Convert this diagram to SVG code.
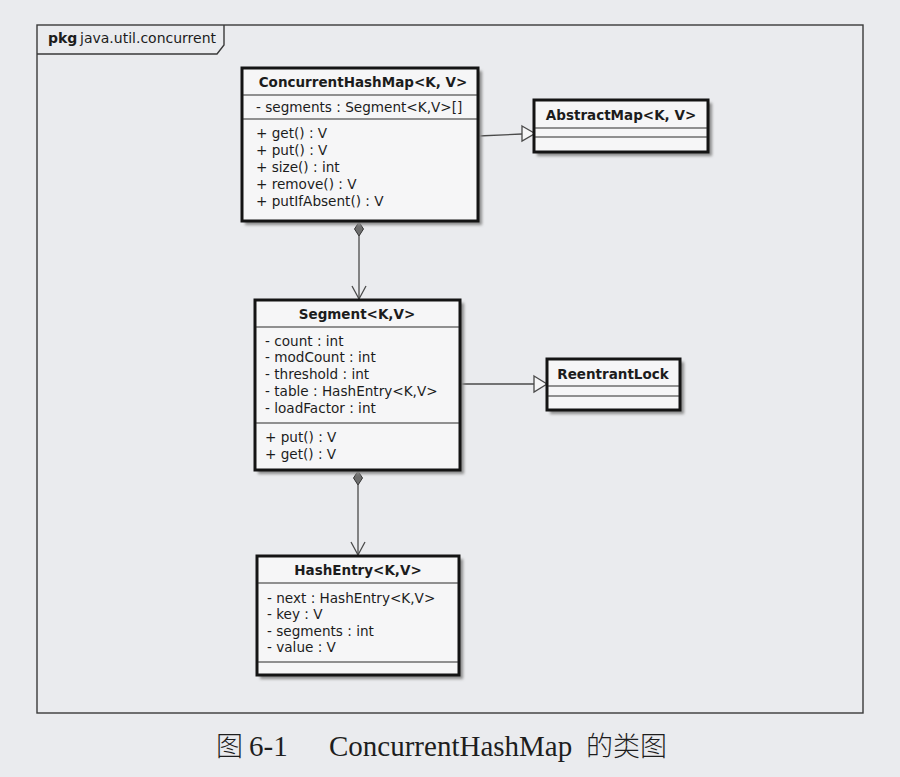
<svg xmlns="http://www.w3.org/2000/svg" width="900" height="777" viewBox="0 0 900 777">
  <defs>
    <style>
      .page { fill: #eaebee; }
      .frame { fill: none; stroke: #3a3a3a; stroke-width: 1.4; }
      .box { fill: #f6f6f7; stroke: #141414; stroke-width: 3; }
      .shadow { fill: #8c8c8c; filter: url(#blur); }
      .div { stroke: #2a2a2a; stroke-width: 1.2; }
      .title { font-family: "DejaVu Sans", "Noto Sans", sans-serif; font-size: 13.5px; font-weight: bold; fill: #1c1c1c; text-anchor: middle; }
      .mem { font-family: "DejaVu Sans", "Noto Sans", sans-serif; font-size: 13.6px; fill: #1c1c1c; }
      .pkgb { font-family: "DejaVu Sans", "Noto Sans", sans-serif; font-size: 14px; font-weight: bold; fill: #1c1c1c; }
      .pkg { font-family: "DejaVu Sans", "Noto Sans", sans-serif; font-size: 14px; fill: #1c1c1c; }
      .edge { fill: none; stroke: #4a4a4a; stroke-width: 1.3; }
      .tri { fill: #f6f6f7; stroke: #4a4a4a; stroke-width: 1.3; }
      .dia { fill: #6e6e6e; stroke: #333; stroke-width: 1; }
      .cap { font-family: "Liberation Serif", "Noto Sans CJK SC", serif; font-size: 29px; fill: #1e1e1e; }
      .capcjk { font-family: "Noto Sans CJK SC", sans-serif; font-size: 27px; font-weight: 300; fill: #1e1e1e; }
    </style>
    <filter id="blur" x="-10%" y="-10%" width="120%" height="120%">
      <feGaussianBlur stdDeviation="1.5"/>
    </filter>
  </defs>

  <rect class="page" x="0" y="0" width="900" height="777"/>

  <g id="package">
    <rect class="frame" x="37" y="25" width="826" height="688"/>
    <path class="frame" d="M37 54 H217 L224 45 V25"/>
    <text x="48" y="43"><tspan class="pkgb">pkg</tspan><tspan class="pkg" x="80">java.util.concurrent</tspan></text>
  </g>

  <g id="connectors">
    <!-- ConcurrentHashMap -> AbstractMap (generalization) -->
    <path class="edge" d="M478 136 L522 134"/>
    <path class="tri" d="M522 126 L535 133.5 L522 141 Z"/>
    <!-- Segment -> ReentrantLock (generalization) -->
    <path class="edge" d="M460 384 H534"/>
    <path class="tri" d="M534 376 L547 384 L534 392 Z"/>
    <!-- ConcurrentHashMap <>-> Segment -->
    <path class="edge" d="M359 236 V299"/>
    <path class="dia" d="M359 222 L363.5 229 L359 236 L354.5 229 Z"/>
    <path class="edge" d="M352 286 L359 299 L366 286"/>
    <!-- Segment <>-> HashEntry -->
    <path class="edge" d="M358 485 V555"/>
    <path class="dia" d="M358 471 L362.5 478 L358 485 L353.5 478 Z"/>
    <path class="edge" d="M351 542 L358 555 L365 542"/>
  </g>

  <g id="ConcurrentHashMap">
    <rect class="shadow" x="245" y="71" width="237" height="154"/>
    <rect class="box" x="242" y="68" width="236" height="153"/>
    <line class="div" x1="243" y1="95" x2="477" y2="95"/>
    <line class="div" x1="243" y1="119" x2="477" y2="119"/>
    <text class="title" x="363" y="87">ConcurrentHashMap&lt;K, V&gt;</text>
    <text class="mem" x="256" y="112">- segments : Segment&lt;K,V&gt;[]</text>
    <text class="mem" x="256" y="138">+ get() : V</text>
    <text class="mem" x="256" y="155">+ put() : V</text>
    <text class="mem" x="256" y="172">+ size() : int</text>
    <text class="mem" x="256" y="189">+ remove() : V</text>
    <text class="mem" x="256" y="206">+ putIfAbsent() : V</text>
  </g>

  <g id="AbstractMap">
    <rect class="shadow" x="537" y="103" width="175" height="53"/>
    <rect class="box" x="534" y="100" width="174" height="52"/>
    <line class="div" x1="535" y1="128" x2="707" y2="128"/>
    <line class="div" x1="535" y1="137" x2="707" y2="137"/>
    <text class="title" x="621" y="120">AbstractMap&lt;K, V&gt;</text>
  </g>

  <g id="Segment">
    <rect class="shadow" x="258" y="303" width="206" height="171"/>
    <rect class="box" x="255" y="300" width="205" height="170"/>
    <line class="div" x1="256" y1="327" x2="459" y2="327"/>
    <line class="div" x1="256" y1="423" x2="459" y2="423"/>
    <text class="title" x="357" y="319">Segment&lt;K,V&gt;</text>
    <text class="mem" x="265" y="346">- count : int</text>
    <text class="mem" x="265" y="362">- modCount : int</text>
    <text class="mem" x="265" y="379">- threshold : int</text>
    <text class="mem" x="265" y="396">- table : HashEntry&lt;K,V&gt;</text>
    <text class="mem" x="265" y="413">- loadFactor : int</text>
    <text class="mem" x="265" y="442">+ put() : V</text>
    <text class="mem" x="265" y="459">+ get() : V</text>
  </g>

  <g id="ReentrantLock">
    <rect class="shadow" x="550" y="362" width="134" height="52"/>
    <rect class="box" x="547" y="359" width="133" height="51"/>
    <line class="div" x1="548" y1="386" x2="679" y2="386"/>
    <line class="div" x1="548" y1="396" x2="679" y2="396"/>
    <text class="title" x="613" y="379">ReentrantLock</text>
  </g>

  <g id="HashEntry">
    <rect class="shadow" x="260" y="559" width="203" height="120"/>
    <rect class="box" x="257" y="556" width="202" height="119"/>
    <line class="div" x1="258" y1="583" x2="458" y2="583"/>
    <line class="div" x1="258" y1="662" x2="458" y2="662"/>
    <text class="title" x="358" y="575">HashEntry&lt;K,V&gt;</text>
    <text class="mem" x="267" y="603">- next : HashEntry&lt;K,V&gt;</text>
    <text class="mem" x="267" y="619">- key : V</text>
    <text class="mem" x="267" y="636">- segments : int</text>
    <text class="mem" x="267" y="652">- value : V</text>
  </g>

  <g id="caption">
    <text y="756"><tspan class="capcjk" x="216">图</tspan><tspan class="cap" x="249">6-1</tspan><tspan class="cap" x="329">ConcurrentHashMap</tspan><tspan class="capcjk" x="586">的类图</tspan></text>
  </g>
</svg>
